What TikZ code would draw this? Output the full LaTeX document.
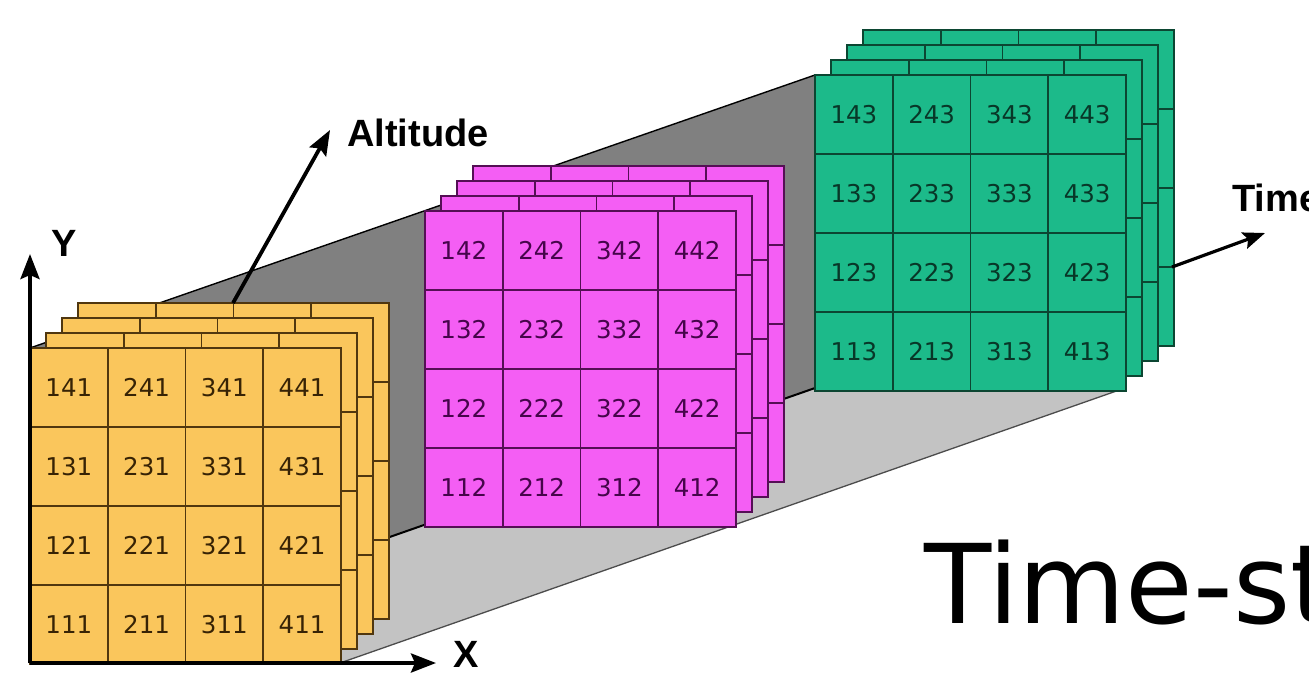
\documentclass[tikz,border=0pt]{standalone}
\usepackage{fontspec}
\setmainfont{DejaVu Sans}
\newfontfamily\lblfont{Liberation Sans}
\usetikzlibrary{arrows.meta}
\definecolor{cyel}{RGB}{250,198,92}
\definecolor{lyel}{RGB}{80,55,15}
\definecolor{tyel}{RGB}{55,35,5}
\definecolor{cmag}{RGB}{244,94,244}
\definecolor{lmag}{RGB}{85,15,85}
\definecolor{tmag}{RGB}{70,5,75}
\definecolor{cgrn}{RGB}{28,186,138}
\definecolor{lgrn}{RGB}{12,70,50}
\definecolor{tgrn}{RGB}{8,55,40}
\definecolor{wallgray}{RGB}{128,128,128}
\definecolor{floorgray}{RGB}{195,195,195}
\tikzset{
  cellbox/.style={rectangle, minimum width=77.75pt, minimum height=79pt,
    inner sep=0pt, outer sep=0pt, line width=1.7pt},
  axisarrow/.style={line width=3.8pt, -{Stealth[length=25pt,width=19pt,inset=4pt]}},
  timearrow/.style={line width=3.2pt, -{Stealth[length=22pt,width=17pt,inset=4pt]}},
  lbl/.style={font=\lblfont\bfseries\fontsize{38}{38}\selectfont, inner sep=0pt},
  numtxt/.style={font=\fontsize{24.5}{24.5}\selectfont},
}
% #1 cube digit, #2 x, #3 y (top-left of front face), #4 fill, #5 line, #6 text colour
\newcommand\drawstack[6]{%
  \foreach \k in {3,2,1} {
    \foreach \c in {1,...,4} {
      \foreach \r in {1,...,4} {
        \node[cellbox, fill=#4, draw=#5] (b#1-\k-\c\r)
          at ({#2+\k*16+(\c-0.5)*77.75}, {#3-\k*15+(4-\r+0.5)*79}) {};
      }
    }
  }
  \foreach \c in {1,...,4} {
    \foreach \r in {1,...,4} {
      \node[cellbox, fill=#4, draw=#5, numtxt, text=#6] (c\c\r#1)
        at ({#2+(\c-0.5)*77.75}, {#3+(4-\r+0.5)*79}) {\c\r#1};
    }
  }
}
\begin{document}
\begin{tikzpicture}[x=1pt,y=-1pt]
\useasboundingbox (0,0) rectangle (1309,673);
% named corners
\coordinate (O) at (30,663);
\coordinate (WallTL) at (30,348);
\coordinate (WallTR) at (815,75);
\coordinate (WallBR) at (815,388);
\coordinate (FloorR) at (340,663);
\coordinate (FloorFR) at (1125,388);
% wall and floor
\fill[wallgray] (WallTL) -- (WallTR) -- (WallBR) -- (O) -- cycle;
\fill[floorgray] (O) -- (FloorR) -- (FloorFR) -- (WallBR) -- cycle;
\draw[line width=1.4pt, black] (WallTL) -- (WallTR);
\draw[line width=2pt, black] (O) -- (WallBR);
\draw[line width=1.3pt, black!70] (FloorR) -- (FloorFR);
% stacks, far to near
\drawstack{3}{815}{75}{cgrn}{lgrn}{tgrn}
\drawstack{2}{425}{211}{cmag}{lmag}{tmag}
\drawstack{1}{30}{348}{cyel}{lyel}{tyel}
% axes
\coordinate (Ytip) at (30,254);
\coordinate (Xtip) at (436,663);
\coordinate (Abase) at (233,303);
\coordinate (Atip) at (330,130);
\coordinate (Tbase) at (1172,267);
\coordinate (Ttip) at (1265,233);
\draw[axisarrow] (O) -- (Ytip);
\draw[axisarrow] (O) -- (Xtip);
\draw[axisarrow] (Abase) -- (Atip);
\draw[timearrow] (Tbase) -- (Ttip);
% labels
\node[lbl] (ylab) at (64,243) {Y};
\node[lbl] (xlab) at (466,654) {X};
\node[lbl, anchor=west] (altlab) at (347,133) {Altitude};
\node[lbl, anchor=west] (timelab) at (1232,198) {Time};
\node[anchor=base west, inner sep=0pt, font=\fontsize{110}{110}\selectfont] (tslab) at (924,623) {Time-st};
\end{tikzpicture}
\end{document}
